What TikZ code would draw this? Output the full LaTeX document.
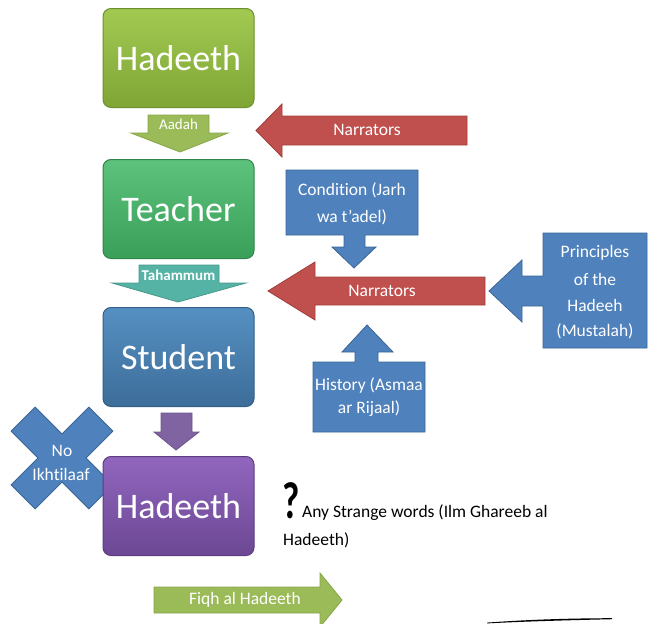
\documentclass[tikz,border=0pt]{standalone}
\usepackage{fontspec}
\setmainfont{Carlito}[Ligatures=NoCommon]
\definecolor{hgreen1}{HTML}{A2CA52}
\definecolor{hgreen2}{HTML}{7FA535}
\definecolor{hgreenD}{HTML}{6E8F2E}
\definecolor{tgreen1}{HTML}{5CC27C}
\definecolor{tgreen2}{HTML}{3A9F58}
\definecolor{tgreenD}{HTML}{2F8549}
\definecolor{sblue1}{HTML}{5590C2}
\definecolor{sblue2}{HTML}{3D6D99}
\definecolor{sblueD}{HTML}{335E85}
\definecolor{hpur1}{HTML}{9166BE}
\definecolor{hpur2}{HTML}{6C4894}
\definecolor{hpurD}{HTML}{5C3D80}
\definecolor{aadah}{HTML}{9BBB59}
\definecolor{aadahD}{HTML}{86A548}
\definecolor{taham}{HTML}{55B3A5}
\definecolor{tahamD}{HTML}{45998C}
\definecolor{narr}{HTML}{C0504D}
\definecolor{narrD}{HTML}{9E3D3A}
\definecolor{call}{HTML}{4F81BD}
\definecolor{callD}{HTML}{3A6696}
\definecolor{purarrow}{HTML}{8064A2}
\begin{document}
\begin{tikzpicture}[x=1pt,y=-1pt,
  bigbox/.style={rounded corners=8pt, line width=1pt, minimum width=151pt, minimum height=99pt,
     inner sep=0pt, text=white, font=\fontsize{36}{40}\selectfont},
  blockarrow/.style={line width=0.8pt},
  lbl/.style={text=white, inner sep=0pt, font=\fontsize{17.5}{20}\selectfont},
  slbl/.style={text=white, inner sep=0pt, font=\fontsize{15}{18}\selectfont},
  blk/.style={text=black, inner sep=0pt, font=\fontsize{17.5}{20}\selectfont}]
\useasboundingbox (0,0) rectangle (654,624);
\clip (0,0) rectangle (654,624);

% No Ikhtilaaf cross (behind the bottom box)
\begin{scope}[shift={(62,458)}, rotate=45]
  \filldraw[fill=call, draw=callD, line width=0.8pt]
    (55,17) -- (55,-17) -- (17,-17) -- (17,-55) -- (-17,-55) -- (-17,-17)
    -- (-55,-17) -- (-55,17) -- (-17,17) -- (-17,55) -- (17,55) -- (17,17) -- cycle;
\end{scope}
\node[lbl] (no) at (62,451) {No};
\node[lbl] (ikh) at (61,474) {Ikhtilaaf};

% main boxes
\node[bigbox, top color=hgreen1, bottom color=hgreen2, draw=hgreenD] (had1) at (178.5,58) {Hadeeth};
\node[bigbox, top color=tgreen1, bottom color=tgreen2, draw=tgreenD] (teach) at (178.5,209) {Teacher};
\node[bigbox, top color=sblue1, bottom color=sblue2, draw=sblueD] (stud) at (178.5,357) {Student};
\node[bigbox, top color=hpur1, bottom color=hpur2, draw=hpurD] (had2) at (178.5,506) {Hadeeth};

% Aadah arrow
\filldraw[blockarrow, fill=aadah, draw=aadahD]
  (148,115) -- (209,115) -- (209,133) -- (228,133) -- (180,152) -- (131,133) -- (148,133) -- cycle;
\node[slbl] (aadah) at (178.5,124) {Aadah};

% Tahammum arrow
\filldraw[blockarrow, fill=taham, draw=tahamD]
  (139,265) -- (219,265) -- (219,283) -- (246,283) -- (178,302) -- (112,283) -- (139,283) -- cycle;
\node[slbl, font=\bfseries\fontsize{15}{18}\selectfont] (taham) at (178.5,275) {Tahammum};

% purple arrow
\filldraw[blockarrow, fill=purarrow, draw=purarrow!85!black]
  (161,413) -- (192,413) -- (192,432) -- (199,432) -- (176,450) -- (154,432) -- (161,432) -- cycle;

% Narrators (top)
\filldraw[blockarrow, fill=narr, draw=narrD]
  (467,116) -- (467,145) -- (282,145) -- (282,157) -- (256,130.5) -- (282,104) -- (282,116) -- cycle;
\node[lbl] (narr1) at (367,130) {Narrators};

% Narrators (middle)
\filldraw[blockarrow, fill=narr, draw=narrD]
  (485,277) -- (485,305) -- (315,305) -- (315,320) -- (268,291) -- (315,262) -- (315,277) -- cycle;
\node[lbl] (narr2) at (382,291) {Narrators};

% Condition callout
\filldraw[blockarrow, fill=call, draw=callD]
  (286,170) -- (418,170) -- (418,235) -- (365,235) -- (365,247) -- (376,247) -- (354,268)
  -- (332,247) -- (344,247) -- (344,235) -- (286,235) -- cycle;
\node[lbl] (cond1) at (352,190) {Condition (Jarh};
\node[lbl] (cond2) at (352,217) {wa t’adel)};

% Principles callout
\filldraw[blockarrow, fill=call, draw=callD]
  (543,233) -- (647,233) -- (647,348) -- (543,348) -- (543,306) -- (522,306) -- (522,322)
  -- (489,291) -- (522,260) -- (522,276) -- (543,276) -- cycle;
\node[lbl] (pr1) at (595,253) {Principles};
\node[lbl] (pr2) at (595,279) {of the};
\node[lbl] (pr3) at (595,305) {Hadeeh};
\node[lbl] (pr4) at (595,331) {(Mustalah)};

% History callout
\filldraw[blockarrow, fill=call, draw=callD]
  (313,362) -- (355,362) -- (355,352) -- (342,352) -- (367,325) -- (393,352) -- (378,352)
  -- (378,362) -- (425,362) -- (425,432) -- (313,432) -- cycle;
\node[lbl] (his1) at (369,386) {History (Asmaa};
\node[lbl] (his2) at (369,409) {ar Rijaal)};

% Strange words
\node[anchor=base west, inner sep=0pt, xscale=0.72, font=\bfseries\fontsize{52}{56}\selectfont] (q) at (282,518) {?};
\node[blk, anchor=base west] (any1) at (302,517) {Any Strange words (Ilm Ghareeb al};
\node[blk, anchor=base west] (any2) at (283,545) {Hadeeth)};

% Fiqh arrow
\filldraw[blockarrow, fill=aadah, draw=aadahD]
  (154,587) -- (320,587) -- (320,573) -- (342,600) -- (320,627) -- (320,613) -- (154,613) -- cycle;
\node[lbl] (fiqh) at (245,600) {Fiqh al Hadeeth};

% stray stroke
\fill[black] (487,622.6) .. controls (530,619.5) and (570,618.3) .. (612,618.2)
  -- (612,619.2) .. controls (570,620.2) and (530,621.2) .. (487,623.4) -- cycle;
\end{tikzpicture}
\end{document}
